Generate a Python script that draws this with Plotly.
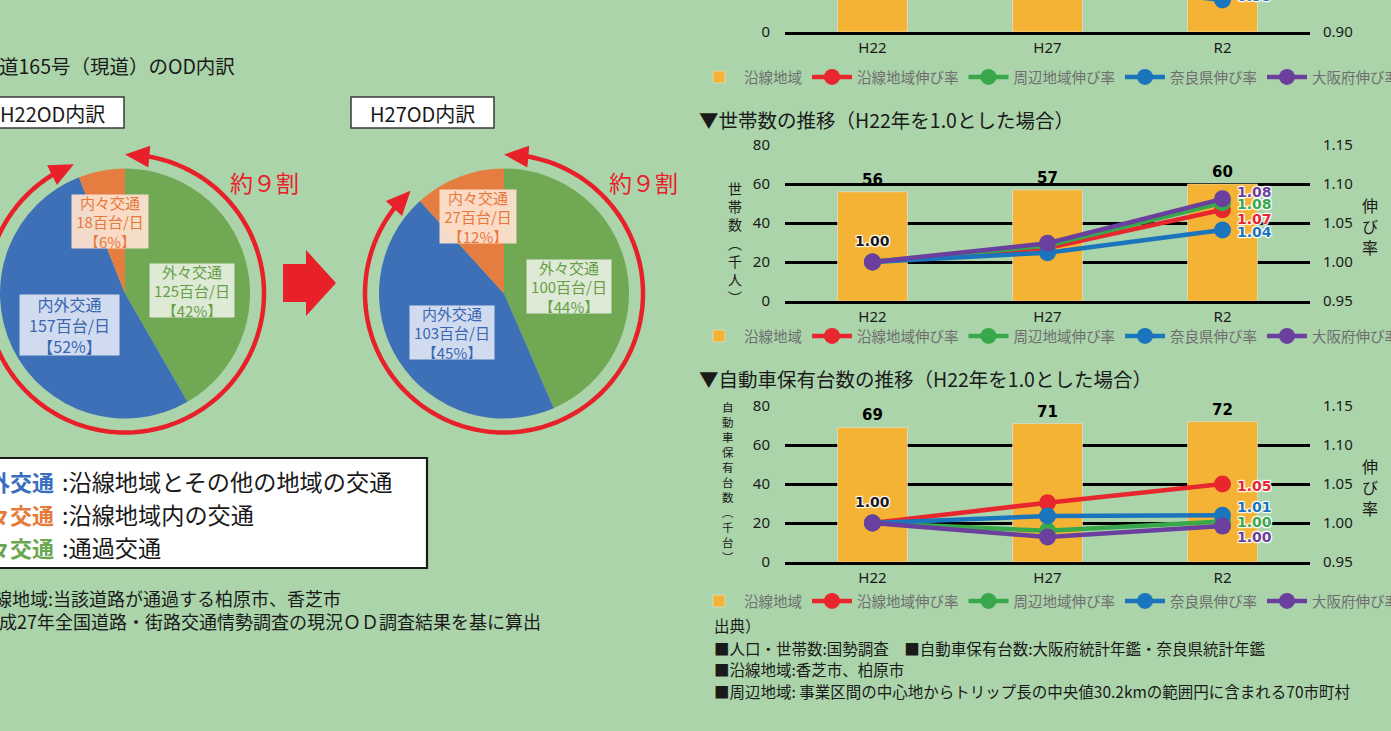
import numpy as np
import plotly.graph_objects as go

W, H = 1391, 731
FONT = "Noto Sans CJK JP"
NUMFONT = "DejaVu Sans"
BG = "#abd4aa"
RED = "#e8202a"

# ---------------- data ----------------
od_names = ["外々交通", "内外交通", "内々交通"]
od_h22 = [125, 157, 18]
od_h22_pct = [42, 52, 6]
od_h27 = [100, 103, 27]
od_h27_pct = [44, 45, 12]
od_colors = ["#70a854", "#3e70b8", "#e67d40"]
od_text_colors = ["#66a046", "#3a66b0", "#e8783c"]
od_box_colors = ["rgba(230,238,224,0.93)", "rgba(216,224,242,0.95)", "rgba(252,224,206,0.95)"]

years = ["H22", "H27", "R2"]
series_names = ["沿線地域伸び率", "周辺地域伸び率", "奈良県伸び率", "大阪府伸び率"]
series_colors = ["#e8262d", "#39a84c", "#1b75bc", "#6b3f9e"]
bar_name = "沿線地域"
bar_color = "#f5b335"

# 人口（千人） – only the lower part of this chart is visible
pop_bar = [151, 149, 147]
pop_rates = [[1.00, 0.99, 0.97], [1.00, 0.99, 0.97], [1.00, 0.974, 0.946], [1.00, 1.00, 0.997]]
# 世帯数（千人）
hh_bar = [56, 57, 60]
hh_rates = [[1.00, 1.018, 1.067], [1.00, 1.021, 1.076], [1.00, 1.012, 1.041], [1.00, 1.024, 1.081]]
# 自動車保有台数（千台）
car_bar = [69, 71, 72]
car_rates = [[1.00, 1.026, 1.050], [1.00, 0.990, 1.002], [1.00, 1.009, 1.010], [1.00, 0.982, 0.996]]

left_ticks = [0, 20, 40, 60, 80]
right_ticks = [0.95, 1.00, 1.05, 1.10, 1.15]


def px(x):
    return x / W


def py(y):
    return 1 - y / H


fig = go.Figure()

# ---------------- pies ----------------
pie_geo = [(125, 293.5, od_h22, od_h22_pct), (504, 293.5, od_h27, od_h27_pct)]
R = 125
for cx, cy, vals, pct in pie_geo:
    fig.add_trace(go.Pie(
        values=vals, labels=od_names, sort=False, direction="clockwise", rotation=0,
        marker=dict(colors=od_colors, line=dict(width=0)), textinfo="none",
        showlegend=False, hoverinfo="label+value+percent",
        domain=dict(x=[px(cx - R), px(cx + R)], y=[py(cy + R), py(cy - R)])))

# ---------------- bar/line charts ----------------
XL, XR = 785, 1310
charts = [
    # top chart: only its bottom strip is inside the picture
    dict(bot=32, top=0, bars=pop_bar, rates=pop_rates, lr=[0, 32 / 39 * 20], rr=[0.90, pop_rates[2][2]],
         lt=[0], rt=[0.90], leg=77, bartext=False),
    dict(bot=301, top=145, bars=hh_bar, rates=hh_rates, lr=[0, 80], rr=[0.95, 1.15],
         lt=left_ticks, rt=right_ticks, leg=336, bartext=True),
    dict(bot=562, top=406, bars=car_bar, rates=car_rates, lr=[0, 80], rr=[0.95, 1.15],
         lt=left_ticks, rt=right_ticks, leg=601, bartext=True),
]

layout_axes = {}
for i, c in enumerate(charts):
    xa = "x" if i == 0 else f"x{i + 1}"
    ya = "y" if i == 0 else f"y{2 * i + 1}"
    ya2 = f"y{2 * i + 2}"
    leg = "legend" if i == 0 else f"legend{i + 1}"
    fig.add_trace(go.Bar(
        x=years, y=c["bars"], name=bar_name, marker_color=bar_color, width=0.4,
        text=c["bars"] if c["bartext"] else None, textposition="outside",
        textfont=dict(family=NUMFONT, size=15, color="black", weight="bold"),
        cliponaxis=False, xaxis=xa, yaxis=ya, legend=leg, hoverinfo="x+y"))
    for name, col, vals in zip(series_names, series_colors, c["rates"]):
        fig.add_trace(go.Scatter(
            x=years, y=vals, name=name, mode="lines+markers",
            line=dict(color=col, width=4.5), marker=dict(color=col, size=17),
            cliponaxis=False, xaxis=xa, yaxis=ya2, legend=leg))
    xkey = "xaxis" if i == 0 else f"xaxis{i + 1}"
    ykey = "yaxis" if i == 0 else f"yaxis{2 * i + 1}"
    y2key = f"yaxis{2 * i + 2}"
    dom_y = [py(c["bot"]), min(1.0, py(c["top"]))]
    layout_axes[xkey] = dict(domain=[px(XL), px(XR)], anchor=ya, type="category", range=[-0.5, 2.5],
                             showgrid=False, showline=True, linecolor="black", linewidth=2.6,
                             zeroline=False, ticks="",
                             tickfont=dict(family="Noto Sans", size=15, color="#1a1a1a"),
                             ticklabelstandoff=0)
    layout_axes[ykey] = dict(domain=dom_y, anchor=xa, range=c["lr"], tickvals=c["lt"],
                             showgrid=True, gridcolor="black", gridwidth=2.6, zeroline=False,
                             showline=False, ticks="", ticklabelstandoff=14,
                             tickfont=dict(family="Noto Sans", size=15, color="#1a1a1a"))
    layout_axes[y2key] = dict(domain=dom_y, anchor=xa, overlaying=ya, side="right", range=c["rr"],
                              tickvals=c["rt"], tickformat=".2f", showgrid=False, zeroline=False,
                              showline=False, ticks="", ticklabelstandoff=12,
                              tickfont=dict(family="Noto Sans", size=15, color="#1a1a1a"))
    layout_axes[leg] = dict(orientation="h", x=px(694), xanchor="left", y=py(c["leg"]), yanchor="middle",
                            bgcolor="rgba(0,0,0,0)", font=dict(family=FONT, size=14.5, color="#6e6e6e"),
                            traceorder="normal", itemwidth=40)

fig.update_layout(**layout_axes)

# ---------------- annotations ----------------
anns = []
shapes = []
HALO = "1px 1px 1px white, -1px -1px 1px white, 1px -1px 1px white, -1px 1px 1px white, 0px 0px 2px white"


def ann(x, y, text, size, color="#1a1a1a", xanchor="center", yanchor="middle", bold=False, family=FONT, **kw):
    d = dict(x=px(x), y=py(y), xref="paper", yref="paper", text=text, showarrow=False,
             xanchor=xanchor, yanchor=yanchor,
             font=dict(family=family, size=size, color=color, weight="bold" if bold else "normal"))
    d.update(kw)
    anns.append(d)


# rate labels at R2 (order: 沿線, 周辺, 奈良, 大阪) and the 1.00 base labels
label_dy = [None, [-9, -1, -2, 7], [-2, -1, 8, -11]]
for i, c in enumerate(charts):
    xa = "x" if i == 0 else f"x{i + 1}"
    ya2 = f"y{2 * i + 2}"
    if i == 0:
        anns.append(dict(x=years[2], y=c["rates"][2][2], xref=xa, yref=ya2, text=f"{c['rates'][2][2]:.2f}",
                         showarrow=False, xanchor="left", xshift=12, yshift=4,
                         font=dict(family=NUMFONT, size=14, color=series_colors[2], weight="bold", shadow=HALO)))
        continue
    for k in range(4):
        v = c["rates"][k][2]
        anns.append(dict(x=years[2], y=v, xref=xa, yref=ya2, text=f"{v:.2f}", showarrow=False,
                         xanchor="left", xshift=12, yshift=label_dy[i][k],
                         font=dict(family=NUMFONT, size=14, color=series_colors[k], weight="bold", shadow=HALO)))
    v0 = c["rates"][0][0]
    anns.append(dict(x=years[0], y=v0, xref=xa, yref=ya2, text=f"{v0:.2f}", showarrow=False,
                     xanchor="center", yshift=21,
                     font=dict(family=NUMFONT, size=14, color="#1a1a1a", weight="bold", shadow=HALO)))

# chart titles / axis titles
ann(697, 119, "▼世帯数の推移（H22年を1.0とした場合）", 19.5, xanchor="left")
ann(697, 378, "▼自動車保有台数の推移（H22年を1.0とした場合）", 19.5, xanchor="left")
ann(735, 242, "<br>".join("世帯数︵千人︶"), 14)
ann(1370, 226, "<br>".join("伸び率"), 16)
ann(728, 482, "<br>".join("自動車保有台数︵千台︶"), 11.5)
ann(1370, 487, "<br>".join("伸び率"), 16)
ann(722, 13, "<br>".join("人口︵千人︶"), 14, yanchor="bottom")

# sources
ann(712, 625, "出典）", 15.5, xanchor="left")
ann(712, 648, "■人口・世帯数:国勢調査　■自動車保有台数:大阪府統計年鑑・奈良県統計年鑑", 15.5, xanchor="left")
ann(712, 669, "■沿線地域:香芝市、柏原市", 15.5, xanchor="left")
ann(712, 691, "■周辺地域: 事業区間の中心地からトリップ長の中央値30.2kmの範囲円に含まれる70市町村", 15.5, xanchor="left")

# left panel texts
ann(237, 66, "■国道165号（現道）のOD内訳", 19.5, xanchor="right")
for (bx0, bx1, label) in [(-19, 124, "H22OD内訳"), (351, 494, "H27OD内訳")]:
    shapes.append(dict(type="rect", xref="paper", yref="paper", x0=px(bx0), x1=px(bx1), y0=py(128), y1=py(97),
                       fillcolor="white", line=dict(color="#3a3a3a", width=1.5)))
    ann((bx0 + bx1) / 2, 113, label, 20)

# pie labels
pie_label_pos = [
    [(183, 290, 84, 53), (60, 325, 99, 60), (101, 221, 76, 53)],
    [(569, 287, 84, 53), (452, 332, 84, 53), (478, 217, 76, 53)],
]
for (cx, cy, vals, pct), pos, shift in zip(pie_geo, pie_label_pos, [9, 0]):
    for k in range(3):
        x, y, w, h = pos[k]
        size = 16 if (k == 1 and shift) else 15
        ann(x + shift, y, f"{od_names[k]}<br>{vals[k]}百台/日<br>【{pct[k]}%】", size,
            color=od_text_colors[k], bgcolor=od_box_colors[k], width=w, height=h, borderpad=0)


def pt(cx, cy, r, deg):
    t = np.radians(deg)
    return cx + r * np.sin(t), cy - r * np.cos(t)


# red rings with arrowheads around the pies (gap = 内々交通 share)
RR = 139
HEAD = 22 / RR * 180 / np.pi
for cx, cy, vals, pct in pie_geo:
    gap = vals[2] / sum(vals) * 360
    a0, a1 = HEAD, 360 - gap - HEAD
    angs = np.linspace(a0, a1, 160)
    pts = [pt(cx, cy, RR, a) for a in angs]
    path = "M " + " L ".join(f"{px(x):.5f},{py(y):.5f}" for x, y in pts)
    shapes.append(dict(type="path", xref="paper", yref="paper", path=path, line=dict(color=RED, width=4.5)))
    for tip_a, base_a in [(0, HEAD + 1), (360 - gap, 360 - gap - HEAD - 1)]:
        tx, ty = pt(cx, cy, RR, tip_a)
        bx, by = pt(cx, cy, RR, base_a)
        dx, dy = tx - bx, ty - by
        L = np.hypot(dx, dy)
        nx, ny = -dy / L * 11, dx / L * 11
        tri = [(tx, ty), (bx + nx, by + ny), (bx - nx, by - ny)]
        p = "M " + " L ".join(f"{px(x):.5f},{py(y):.5f}" for x, y in tri) + " Z"
        shapes.append(dict(type="path", xref="paper", yref="paper", path=p, fillcolor=RED, line=dict(width=0)))
    ann(cx + 139, 182, "約９割", 23, color=RED)

# block arrow between pies
arrow = [(283, 264), (306, 264), (306, 250), (336, 283), (306, 316), (306, 302), (283, 302)]
shapes.append(dict(type="path", xref="paper", yref="paper",
                   path="M " + " L ".join(f"{px(x):.5f},{py(y):.5f}" for x, y in arrow) + " Z",
                   fillcolor=RED, line=dict(width=0)))

# category legend box
shapes.append(dict(type="rect", xref="paper", yref="paper", x0=px(-10), x1=px(427), y0=py(568), y1=py(458),
                   fillcolor="white", line=dict(color="#1a1a1a", width=2.2)))
legend_rows = [("内外交通", "#3a6fc0", ":沿線地域とその他の地域の交通", 481),
               ("内々交通", "#e67a3c", ":沿線地域内の交通", 514),
               ("外々交通", "#6aa84f", ":通過交通", 547)]
for term, col, desc, y in legend_rows:
    ann(56, y, term, 22, color=col, xanchor="right", bold=True)
    ann(60, y, desc, 23.2, xanchor="left")

ann(343, 598, "※沿線地域:当該道路が通過する柏原市、香芝市", 18, xanchor="right")
ann(543, 621, "出典:平成27年全国道路・街路交通情勢調査の現況ＯＤ調査結果を基に算出", 18, xanchor="right")

fig.update_layout(
    width=W, height=H, autosize=False,
    margin=dict(l=0, r=0, t=0, b=0, pad=0, autoexpand=False),
    paper_bgcolor=BG, plot_bgcolor="rgba(0,0,0,0)", barmode="overlay",
    font=dict(family=FONT, color="#1a1a1a"),
    annotations=anns, shapes=shapes,
)

fig.write_html("out.html", config={"displayModeBar": False},
               post_script="document.body.style.margin='0';document.body.style.overflow='hidden';")
